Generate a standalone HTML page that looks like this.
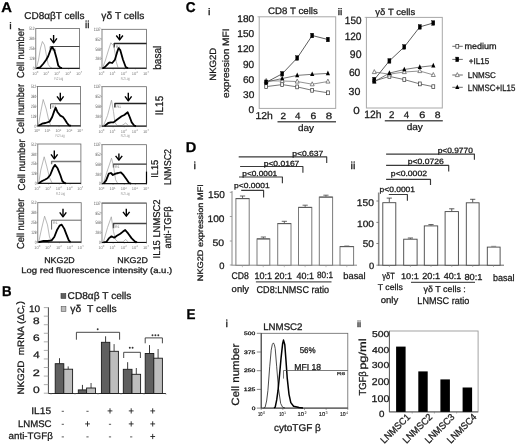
<!DOCTYPE html>
<html><head><meta charset="utf-8"><style>
html,body{margin:0;padding:0;background:#fff;}
svg{display:block;will-change:transform;}
text{font-family:"Liberation Sans",sans-serif;text-rendering:geometricPrecision;white-space:pre;}
</style></head><body>
<svg width="520" height="446" viewBox="0 0 520 446">
<rect width="520" height="446" fill="#fff"/>
<text transform="translate(1.33,11.70) scale(1.051,1)" font-size="14.06" font-weight="bold" fill="#000" stroke="#000" stroke-width="0.28" >A</text>
<text transform="translate(1.94,296.40) scale(0.935,1)" font-size="14.20" font-weight="bold" fill="#000" stroke="#000" stroke-width="0.28" >B</text>
<text transform="translate(185.86,11.50) scale(0.957,1)" font-size="14.20" font-weight="bold" fill="#000" stroke="#000" stroke-width="0.28" >C</text>
<text transform="translate(185.75,152.20) scale(1.020,1)" font-size="14.35" font-weight="bold" fill="#000" stroke="#000" stroke-width="0.28" >D</text>
<text transform="translate(186.43,318.60) scale(0.938,1)" font-size="14.35" font-weight="bold" fill="#000" stroke="#000" stroke-width="0.28" >E</text>
<text transform="translate(24.30,19.40) scale(1.000,1)" font-size="10.00" fill="#1a1a1a" stroke="#1a1a1a" stroke-width="0.28" >CD8αβT cells</text>
<text transform="translate(101.35,19.30) scale(1.020,1)" font-size="10.00" fill="#1a1a1a" stroke="#1a1a1a" stroke-width="0.28" >γδ T cells</text>
<text transform="translate(9.18,28.60) scale(1.182,1)" font-size="9.40" fill="#1a1a1a" stroke="#1a1a1a" stroke-width="0.28" >i</text>
<text transform="translate(85.05,27.50) scale(1.000,1)" font-size="10.00" fill="#1a1a1a" stroke="#1a1a1a" stroke-width="0.28" >ii</text>
<text transform="translate(23.70,78.07) rotate(-90) scale(0.918,1)" font-size="10.14" fill="#1a1a1a" stroke="#1a1a1a" stroke-width="0.28">Cell number</text>
<text transform="translate(23.70,133.66) rotate(-90) scale(0.911,1)" font-size="10.14" fill="#1a1a1a" stroke="#1a1a1a" stroke-width="0.28">Cell number</text>
<text transform="translate(24.60,190.38) rotate(-90) scale(0.937,1)" font-size="10.14" fill="#1a1a1a" stroke="#1a1a1a" stroke-width="0.28">Cell number</text>
<text transform="translate(24.00,249.07) rotate(-90) scale(0.922,1)" font-size="10.14" fill="#1a1a1a" stroke="#1a1a1a" stroke-width="0.28">Cell number</text>
<text transform="translate(160.90,69.86) rotate(-90) scale(0.920,1)" font-size="11.01" fill="#1a1a1a" stroke="#1a1a1a" stroke-width="0.28">basal</text>
<text transform="translate(163.20,115.20) rotate(-90) scale(0.905,1)" font-size="11.01" fill="#1a1a1a" stroke="#1a1a1a" stroke-width="0.28">IL15</text>
<text transform="translate(158.10,177.83) rotate(-90) scale(0.939,1)" font-size="9.86" fill="#1a1a1a" stroke="#1a1a1a" stroke-width="0.28">IL15</text>
<text transform="translate(171.20,185.11) rotate(-90) scale(0.905,1)" font-size="9.86" fill="#1a1a1a" stroke="#1a1a1a" stroke-width="0.28">LNMSC2</text>
<text transform="translate(160.40,258.44) rotate(-90) scale(0.952,1)" font-size="9.86" fill="#1a1a1a" stroke="#1a1a1a" stroke-width="0.28">IL15 LNMSC2</text>
<text transform="translate(171.40,248.47) rotate(-90) scale(0.944,1)" font-size="9.86" fill="#1a1a1a" stroke="#1a1a1a" stroke-width="0.28">anti-TGFβ</text>
<text transform="translate(44.19,262.60) scale(1.076,1)" font-size="8.26" fill="#1a1a1a" stroke="#1a1a1a" stroke-width="0.28" >NKG2D</text>
<text transform="translate(117.29,262.60) scale(1.076,1)" font-size="8.26" fill="#1a1a1a" stroke="#1a1a1a" stroke-width="0.28" >NKG2D</text>
<text transform="translate(21.24,273.00) scale(1.171,1)" font-size="8.12" fill="#1a1a1a" stroke="#1a1a1a" stroke-width="0.28" >Log red fluorescence intensity (a.u.)</text>
<rect x="35.8" y="28.6" width="43.8" height="39.699999999999996" fill="none" stroke="#666" stroke-width="0.8"/>
<text x="34.5" y="70.0" font-size="4.8" fill="#555" text-anchor="end" textLength="1.8" lengthAdjust="spacingAndGlyphs">0</text>
<line x1="34.599999999999994" y1="68.3" x2="35.8" y2="68.3" stroke="#888" stroke-width="0.6"/>
<text x="34.5" y="60.1" font-size="4.8" fill="#555" text-anchor="end" textLength="5.2" lengthAdjust="spacingAndGlyphs">128</text>
<line x1="34.599999999999994" y1="58.375" x2="35.8" y2="58.375" stroke="#888" stroke-width="0.6"/>
<text x="34.5" y="50.2" font-size="4.8" fill="#555" text-anchor="end" textLength="5.2" lengthAdjust="spacingAndGlyphs">256</text>
<line x1="34.599999999999994" y1="48.45" x2="35.8" y2="48.45" stroke="#888" stroke-width="0.6"/>
<text x="34.5" y="40.2" font-size="4.8" fill="#555" text-anchor="end" textLength="5.2" lengthAdjust="spacingAndGlyphs">384</text>
<line x1="34.599999999999994" y1="38.525" x2="35.8" y2="38.525" stroke="#888" stroke-width="0.6"/>
<text x="34.5" y="30.3" font-size="4.8" fill="#555" text-anchor="end" textLength="5.2" lengthAdjust="spacingAndGlyphs">512</text>
<line x1="34.599999999999994" y1="28.6" x2="35.8" y2="28.6" stroke="#888" stroke-width="0.6"/>
<text x="35.2" y="74.7" font-size="4.0" fill="#777" text-anchor="middle">10<tspan font-size="2.8" dy="-1.5">0</tspan></text>
<line x1="35.8" y1="68.3" x2="35.8" y2="69.5" stroke="#888" stroke-width="0.6"/>
<text x="46.1" y="74.7" font-size="4.0" fill="#777" text-anchor="middle">10<tspan font-size="2.8" dy="-1.5">1</tspan></text>
<line x1="46.75" y1="68.3" x2="46.75" y2="69.5" stroke="#888" stroke-width="0.6"/>
<text x="57.1" y="74.7" font-size="4.0" fill="#777" text-anchor="middle">10<tspan font-size="2.8" dy="-1.5">2</tspan></text>
<line x1="57.699999999999996" y1="68.3" x2="57.699999999999996" y2="69.5" stroke="#888" stroke-width="0.6"/>
<text x="68.0" y="74.7" font-size="4.0" fill="#777" text-anchor="middle">10<tspan font-size="2.8" dy="-1.5">3</tspan></text>
<line x1="68.64999999999999" y1="68.3" x2="68.64999999999999" y2="69.5" stroke="#888" stroke-width="0.6"/>
<text x="79.0" y="74.7" font-size="4.0" fill="#777" text-anchor="middle">10<tspan font-size="2.8" dy="-1.5">4</tspan></text>
<line x1="79.6" y1="68.3" x2="79.6" y2="69.5" stroke="#888" stroke-width="0.6"/>
<text x="58.7" y="79.6" font-size="4.2" fill="#888" text-anchor="middle" textLength="9" lengthAdjust="spacingAndGlyphs">FL2 Log</text>
<polyline points="50.2,48.9 50.2,46.5 79.6,46.5" fill="none" stroke="#333" stroke-width="0.9" stroke-linejoin="round"/>
<text x="51.7" y="50.5" font-size="3.6" fill="#777">R1</text>
<polyline points="36.5,67.6 38.5,60.0 40.5,48.0 42.4,41.5 44.5,45.0 46.5,56.0 48.2,64.4 50.5,67.6 52.0,68.0" fill="none" stroke="#9a9a9a" stroke-width="0.7" stroke-linejoin="round"/>
<polyline points="36.8,68.1 40.1,67.3 43.5,63.5 46.2,59.7 48.2,56.3 50.9,48.9 52.2,46.9 54.3,50.2 56.5,58.0 58.3,65.7 60.3,67.7 62.0,68.1" fill="none" stroke="#000" stroke-width="1.8" stroke-linejoin="round"/>
<line x1="35.8" y1="68.3" x2="79.6" y2="68.3" stroke="#000" stroke-width="1.0"/>
<line x1="53.6" y1="35.0" x2="53.6" y2="42.5" stroke="#000" stroke-width="1.4"/>
<polyline points="50.3,38.4 53.6,42.8 56.9,38.4" fill="none" stroke="#000" stroke-width="1.4" stroke-linejoin="round"/>
<rect x="102.0" y="29.3" width="44.5" height="38.900000000000006" fill="none" stroke="#666" stroke-width="0.8"/>
<text x="100.7" y="69.9" font-size="4.8" fill="#555" text-anchor="end" textLength="1.8" lengthAdjust="spacingAndGlyphs">0</text>
<line x1="100.8" y1="68.2" x2="102.0" y2="68.2" stroke="#888" stroke-width="0.6"/>
<text x="100.7" y="60.2" font-size="4.8" fill="#555" text-anchor="end" textLength="5.2" lengthAdjust="spacingAndGlyphs">284</text>
<line x1="100.8" y1="58.475" x2="102.0" y2="58.475" stroke="#888" stroke-width="0.6"/>
<text x="100.7" y="50.5" font-size="4.8" fill="#555" text-anchor="end" textLength="5.2" lengthAdjust="spacingAndGlyphs">568</text>
<line x1="100.8" y1="48.75" x2="102.0" y2="48.75" stroke="#888" stroke-width="0.6"/>
<text x="100.7" y="40.7" font-size="4.8" fill="#555" text-anchor="end" textLength="5.2" lengthAdjust="spacingAndGlyphs">852</text>
<line x1="100.8" y1="39.025" x2="102.0" y2="39.025" stroke="#888" stroke-width="0.6"/>
<text x="100.7" y="31.0" font-size="4.8" fill="#555" text-anchor="end" textLength="7.0" lengthAdjust="spacingAndGlyphs">1137</text>
<line x1="100.8" y1="29.299999999999997" x2="102.0" y2="29.299999999999997" stroke="#888" stroke-width="0.6"/>
<text x="101.4" y="74.6" font-size="4.0" fill="#777" text-anchor="middle">10<tspan font-size="2.8" dy="-1.5">0</tspan></text>
<line x1="102.0" y1="68.2" x2="102.0" y2="69.4" stroke="#888" stroke-width="0.6"/>
<text x="112.5" y="74.6" font-size="4.0" fill="#777" text-anchor="middle">10<tspan font-size="2.8" dy="-1.5">1</tspan></text>
<line x1="113.125" y1="68.2" x2="113.125" y2="69.4" stroke="#888" stroke-width="0.6"/>
<text x="123.7" y="74.6" font-size="4.0" fill="#777" text-anchor="middle">10<tspan font-size="2.8" dy="-1.5">2</tspan></text>
<line x1="124.25" y1="68.2" x2="124.25" y2="69.4" stroke="#888" stroke-width="0.6"/>
<text x="134.8" y="74.6" font-size="4.0" fill="#777" text-anchor="middle">10<tspan font-size="2.8" dy="-1.5">3</tspan></text>
<line x1="135.375" y1="68.2" x2="135.375" y2="69.4" stroke="#888" stroke-width="0.6"/>
<text x="145.9" y="74.6" font-size="4.0" fill="#777" text-anchor="middle">10<tspan font-size="2.8" dy="-1.5">4</tspan></text>
<line x1="146.5" y1="68.2" x2="146.5" y2="69.4" stroke="#888" stroke-width="0.6"/>
<text x="125.2" y="79.5" font-size="4.2" fill="#888" text-anchor="middle" textLength="9" lengthAdjust="spacingAndGlyphs">FL2 Log</text>
<polyline points="114.2,47.5 114.2,43.5 146.5,43.5" fill="none" stroke="#222" stroke-width="1.4" stroke-linejoin="round"/>
<text x="115.7" y="47.5" font-size="3.6" fill="#777">R1</text>
<polyline points="102.8,67.7 105.5,60.0 108.5,50.0 110.9,42.8 112.5,44.8 113.8,46.0 115.2,54.0 116.2,61.7 118.0,67.5" fill="none" stroke="#9a9a9a" stroke-width="0.7" stroke-linejoin="round"/>
<polyline points="102.8,68.3 105.0,67.0 107.5,64.4 109.5,62.3 112.2,63.0 114.9,59.7 116.9,52.9 118.5,48.2 120.3,50.2 123.0,59.7 125.7,67.0 128.0,68.3" fill="none" stroke="#000" stroke-width="1.8" stroke-linejoin="round"/>
<line x1="102.0" y1="68.2" x2="146.5" y2="68.2" stroke="#000" stroke-width="1.0"/>
<line x1="119.6" y1="34.0" x2="119.6" y2="39.6" stroke="#000" stroke-width="1.4"/>
<polyline points="116.3,35.5 119.6,39.9 122.9,35.5" fill="none" stroke="#000" stroke-width="1.4" stroke-linejoin="round"/>
<rect x="37.5" y="86.5" width="43.0" height="39.400000000000006" fill="none" stroke="#666" stroke-width="0.8"/>
<text x="36.2" y="127.6" font-size="4.8" fill="#555" text-anchor="end" textLength="1.8" lengthAdjust="spacingAndGlyphs">0</text>
<line x1="36.3" y1="125.9" x2="37.5" y2="125.9" stroke="#888" stroke-width="0.6"/>
<text x="36.2" y="117.8" font-size="4.8" fill="#555" text-anchor="end" textLength="5.2" lengthAdjust="spacingAndGlyphs">128</text>
<line x1="36.3" y1="116.05000000000001" x2="37.5" y2="116.05000000000001" stroke="#888" stroke-width="0.6"/>
<text x="36.2" y="107.9" font-size="4.8" fill="#555" text-anchor="end" textLength="5.2" lengthAdjust="spacingAndGlyphs">256</text>
<line x1="36.3" y1="106.2" x2="37.5" y2="106.2" stroke="#888" stroke-width="0.6"/>
<text x="36.2" y="98.0" font-size="4.8" fill="#555" text-anchor="end" textLength="5.2" lengthAdjust="spacingAndGlyphs">384</text>
<line x1="36.3" y1="96.35" x2="37.5" y2="96.35" stroke="#888" stroke-width="0.6"/>
<text x="36.2" y="88.2" font-size="4.8" fill="#555" text-anchor="end" textLength="5.2" lengthAdjust="spacingAndGlyphs">512</text>
<line x1="36.3" y1="86.5" x2="37.5" y2="86.5" stroke="#888" stroke-width="0.6"/>
<text x="36.9" y="132.3" font-size="4.0" fill="#777" text-anchor="middle">10<tspan font-size="2.8" dy="-1.5">0</tspan></text>
<line x1="37.5" y1="125.9" x2="37.5" y2="127.10000000000001" stroke="#888" stroke-width="0.6"/>
<text x="47.6" y="132.3" font-size="4.0" fill="#777" text-anchor="middle">10<tspan font-size="2.8" dy="-1.5">1</tspan></text>
<line x1="48.25" y1="125.9" x2="48.25" y2="127.10000000000001" stroke="#888" stroke-width="0.6"/>
<text x="58.4" y="132.3" font-size="4.0" fill="#777" text-anchor="middle">10<tspan font-size="2.8" dy="-1.5">2</tspan></text>
<line x1="59.0" y1="125.9" x2="59.0" y2="127.10000000000001" stroke="#888" stroke-width="0.6"/>
<text x="69.2" y="132.3" font-size="4.0" fill="#777" text-anchor="middle">10<tspan font-size="2.8" dy="-1.5">3</tspan></text>
<line x1="69.75" y1="125.9" x2="69.75" y2="127.10000000000001" stroke="#888" stroke-width="0.6"/>
<text x="79.9" y="132.3" font-size="4.0" fill="#777" text-anchor="middle">10<tspan font-size="2.8" dy="-1.5">4</tspan></text>
<line x1="80.5" y1="125.9" x2="80.5" y2="127.10000000000001" stroke="#888" stroke-width="0.6"/>
<text x="60.0" y="137.2" font-size="4.2" fill="#888" text-anchor="middle" textLength="9" lengthAdjust="spacingAndGlyphs">FL2 Log</text>
<polyline points="50.6,108.9 50.6,103.8 80.5,103.8" fill="none" stroke="#444" stroke-width="1.0" stroke-linejoin="round"/>
<text x="52.1" y="107.8" font-size="3.6" fill="#777">R1</text>
<polyline points="38.4,125.0 40.8,111.6 43.2,99.5 46.2,108.9 48.9,121.0 50.5,125.0" fill="none" stroke="#9a9a9a" stroke-width="0.7" stroke-linejoin="round"/>
<polyline points="38.4,125.7 42.1,123.7 45.5,123.0 49.5,121.7 52.2,117.0 54.3,110.9 55.6,107.6 57.6,112.3 60.3,115.6 63.0,117.0 65.0,119.7 67.0,123.0 69.0,125.3 71.0,125.7" fill="none" stroke="#000" stroke-width="1.8" stroke-linejoin="round"/>
<line x1="37.5" y1="125.9" x2="80.5" y2="125.9" stroke="#000" stroke-width="1.0"/>
<line x1="60.3" y1="92.8" x2="60.3" y2="100.5" stroke="#000" stroke-width="1.4"/>
<polyline points="57.0,96.4 60.3,100.8 63.6,96.4" fill="none" stroke="#000" stroke-width="1.4" stroke-linejoin="round"/>
<rect x="102.0" y="86.7" width="44.5" height="39.39999999999999" fill="none" stroke="#666" stroke-width="0.8"/>
<text x="100.7" y="127.8" font-size="4.8" fill="#555" text-anchor="end" textLength="1.8" lengthAdjust="spacingAndGlyphs">0</text>
<line x1="100.8" y1="126.1" x2="102.0" y2="126.1" stroke="#888" stroke-width="0.6"/>
<text x="100.7" y="118.0" font-size="4.8" fill="#555" text-anchor="end" textLength="5.2" lengthAdjust="spacingAndGlyphs">284</text>
<line x1="100.8" y1="116.25" x2="102.0" y2="116.25" stroke="#888" stroke-width="0.6"/>
<text x="100.7" y="108.1" font-size="4.8" fill="#555" text-anchor="end" textLength="5.2" lengthAdjust="spacingAndGlyphs">568</text>
<line x1="100.8" y1="106.4" x2="102.0" y2="106.4" stroke="#888" stroke-width="0.6"/>
<text x="100.7" y="98.2" font-size="4.8" fill="#555" text-anchor="end" textLength="5.2" lengthAdjust="spacingAndGlyphs">852</text>
<line x1="100.8" y1="96.55" x2="102.0" y2="96.55" stroke="#888" stroke-width="0.6"/>
<text x="100.7" y="88.4" font-size="4.8" fill="#555" text-anchor="end" textLength="7.0" lengthAdjust="spacingAndGlyphs">1137</text>
<line x1="100.8" y1="86.7" x2="102.0" y2="86.7" stroke="#888" stroke-width="0.6"/>
<text x="101.4" y="132.5" font-size="4.0" fill="#777" text-anchor="middle">10<tspan font-size="2.8" dy="-1.5">0</tspan></text>
<line x1="102.0" y1="126.1" x2="102.0" y2="127.3" stroke="#888" stroke-width="0.6"/>
<text x="112.5" y="132.5" font-size="4.0" fill="#777" text-anchor="middle">10<tspan font-size="2.8" dy="-1.5">1</tspan></text>
<line x1="113.125" y1="126.1" x2="113.125" y2="127.3" stroke="#888" stroke-width="0.6"/>
<text x="123.7" y="132.5" font-size="4.0" fill="#777" text-anchor="middle">10<tspan font-size="2.8" dy="-1.5">2</tspan></text>
<line x1="124.25" y1="126.1" x2="124.25" y2="127.3" stroke="#888" stroke-width="0.6"/>
<text x="134.8" y="132.5" font-size="4.0" fill="#777" text-anchor="middle">10<tspan font-size="2.8" dy="-1.5">3</tspan></text>
<line x1="135.375" y1="126.1" x2="135.375" y2="127.3" stroke="#888" stroke-width="0.6"/>
<text x="145.9" y="132.5" font-size="4.0" fill="#777" text-anchor="middle">10<tspan font-size="2.8" dy="-1.5">4</tspan></text>
<line x1="146.5" y1="126.1" x2="146.5" y2="127.3" stroke="#888" stroke-width="0.6"/>
<text x="125.2" y="137.4" font-size="4.2" fill="#888" text-anchor="middle" textLength="9" lengthAdjust="spacingAndGlyphs">FL2 Log</text>
<polyline points="114.9,107.6 114.9,103.5 146.5,103.5" fill="none" stroke="#222" stroke-width="1.4" stroke-linejoin="round"/>
<text x="116.4" y="107.5" font-size="3.6" fill="#777">R1</text>
<polyline points="103.5,125.7 107.5,115.6 111.5,100.2 113.5,111.6 114.9,122.4 117.0,125.5 122.0,125.5 125.7,123.0 128.5,125.7" fill="none" stroke="#9a9a9a" stroke-width="0.7" stroke-linejoin="round"/>
<polyline points="104.5,126.1 108.2,123.0 110.9,122.4 113.5,122.4 116.2,120.3 118.9,118.3 121.6,116.3 124.3,115.0 127.7,112.3 129.7,117.0 131.7,122.4 134.4,125.7 136.0,126.1" fill="none" stroke="#000" stroke-width="1.8" stroke-linejoin="round"/>
<line x1="102.0" y1="126.1" x2="146.5" y2="126.1" stroke="#000" stroke-width="1.0"/>
<line x1="128.3" y1="92.8" x2="128.3" y2="100.5" stroke="#000" stroke-width="1.4"/>
<polyline points="125.0,96.4 128.3,100.8 131.6,96.4" fill="none" stroke="#000" stroke-width="1.4" stroke-linejoin="round"/>
<rect x="37.8" y="144.0" width="43.10000000000001" height="39.30000000000001" fill="none" stroke="#666" stroke-width="0.8"/>
<text x="36.5" y="185.0" font-size="4.8" fill="#555" text-anchor="end" textLength="1.8" lengthAdjust="spacingAndGlyphs">0</text>
<line x1="36.599999999999994" y1="183.3" x2="37.8" y2="183.3" stroke="#888" stroke-width="0.6"/>
<text x="36.5" y="175.2" font-size="4.8" fill="#555" text-anchor="end" textLength="5.2" lengthAdjust="spacingAndGlyphs">128</text>
<line x1="36.599999999999994" y1="173.47500000000002" x2="37.8" y2="173.47500000000002" stroke="#888" stroke-width="0.6"/>
<text x="36.5" y="165.3" font-size="4.8" fill="#555" text-anchor="end" textLength="5.2" lengthAdjust="spacingAndGlyphs">256</text>
<line x1="36.599999999999994" y1="163.65" x2="37.8" y2="163.65" stroke="#888" stroke-width="0.6"/>
<text x="36.5" y="155.5" font-size="4.8" fill="#555" text-anchor="end" textLength="5.2" lengthAdjust="spacingAndGlyphs">384</text>
<line x1="36.599999999999994" y1="153.825" x2="37.8" y2="153.825" stroke="#888" stroke-width="0.6"/>
<text x="36.5" y="145.7" font-size="4.8" fill="#555" text-anchor="end" textLength="5.2" lengthAdjust="spacingAndGlyphs">512</text>
<line x1="36.599999999999994" y1="144.0" x2="37.8" y2="144.0" stroke="#888" stroke-width="0.6"/>
<text x="37.2" y="189.7" font-size="4.0" fill="#777" text-anchor="middle">10<tspan font-size="2.8" dy="-1.5">0</tspan></text>
<line x1="37.8" y1="183.3" x2="37.8" y2="184.5" stroke="#888" stroke-width="0.6"/>
<text x="48.0" y="189.7" font-size="4.0" fill="#777" text-anchor="middle">10<tspan font-size="2.8" dy="-1.5">1</tspan></text>
<line x1="48.575" y1="183.3" x2="48.575" y2="184.5" stroke="#888" stroke-width="0.6"/>
<text x="58.8" y="189.7" font-size="4.0" fill="#777" text-anchor="middle">10<tspan font-size="2.8" dy="-1.5">2</tspan></text>
<line x1="59.35" y1="183.3" x2="59.35" y2="184.5" stroke="#888" stroke-width="0.6"/>
<text x="69.5" y="189.7" font-size="4.0" fill="#777" text-anchor="middle">10<tspan font-size="2.8" dy="-1.5">3</tspan></text>
<line x1="70.125" y1="183.3" x2="70.125" y2="184.5" stroke="#888" stroke-width="0.6"/>
<text x="80.3" y="189.7" font-size="4.0" fill="#777" text-anchor="middle">10<tspan font-size="2.8" dy="-1.5">4</tspan></text>
<line x1="80.9" y1="183.3" x2="80.9" y2="184.5" stroke="#888" stroke-width="0.6"/>
<text x="60.4" y="194.6" font-size="4.2" fill="#888" text-anchor="middle" textLength="9" lengthAdjust="spacingAndGlyphs">FL2 Log</text>
<polyline points="51.6,164.2 51.6,161.5 80.9,161.5" fill="none" stroke="#777" stroke-width="1.4" stroke-linejoin="round"/>
<polyline points="38.8,182.8 40.8,170.0 44.2,156.8 46.9,166.9 49.5,177.7 52.0,182.8" fill="none" stroke="#9a9a9a" stroke-width="0.7" stroke-linejoin="round"/>
<polyline points="38.8,183.3 42.1,181.0 44.8,179.7 47.5,178.3 50.2,175.0 52.9,168.3 54.9,164.9 57.6,168.3 60.3,175.0 62.3,181.0 64.3,183.0 66.0,183.3" fill="none" stroke="#000" stroke-width="1.8" stroke-linejoin="round"/>
<line x1="37.8" y1="183.3" x2="80.9" y2="183.3" stroke="#000" stroke-width="1.0"/>
<line x1="54.3" y1="150.5" x2="54.3" y2="158.5" stroke="#000" stroke-width="1.4"/>
<polyline points="51.0,154.4 54.3,158.8 57.6,154.4" fill="none" stroke="#000" stroke-width="1.4" stroke-linejoin="round"/>
<rect x="102.0" y="144.7" width="44.5" height="39.0" fill="none" stroke="#666" stroke-width="0.8"/>
<text x="100.7" y="185.4" font-size="4.8" fill="#555" text-anchor="end" textLength="1.8" lengthAdjust="spacingAndGlyphs">0</text>
<line x1="100.8" y1="183.7" x2="102.0" y2="183.7" stroke="#888" stroke-width="0.6"/>
<text x="100.7" y="175.6" font-size="4.8" fill="#555" text-anchor="end" textLength="5.2" lengthAdjust="spacingAndGlyphs">284</text>
<line x1="100.8" y1="173.95" x2="102.0" y2="173.95" stroke="#888" stroke-width="0.6"/>
<text x="100.7" y="165.9" font-size="4.8" fill="#555" text-anchor="end" textLength="5.2" lengthAdjust="spacingAndGlyphs">568</text>
<line x1="100.8" y1="164.2" x2="102.0" y2="164.2" stroke="#888" stroke-width="0.6"/>
<text x="100.7" y="156.1" font-size="4.8" fill="#555" text-anchor="end" textLength="5.2" lengthAdjust="spacingAndGlyphs">852</text>
<line x1="100.8" y1="154.45" x2="102.0" y2="154.45" stroke="#888" stroke-width="0.6"/>
<text x="100.7" y="146.4" font-size="4.8" fill="#555" text-anchor="end" textLength="7.0" lengthAdjust="spacingAndGlyphs">1137</text>
<line x1="100.8" y1="144.7" x2="102.0" y2="144.7" stroke="#888" stroke-width="0.6"/>
<text x="101.4" y="190.1" font-size="4.0" fill="#777" text-anchor="middle">10<tspan font-size="2.8" dy="-1.5">0</tspan></text>
<line x1="102.0" y1="183.7" x2="102.0" y2="184.89999999999998" stroke="#888" stroke-width="0.6"/>
<text x="112.5" y="190.1" font-size="4.0" fill="#777" text-anchor="middle">10<tspan font-size="2.8" dy="-1.5">1</tspan></text>
<line x1="113.125" y1="183.7" x2="113.125" y2="184.89999999999998" stroke="#888" stroke-width="0.6"/>
<text x="123.7" y="190.1" font-size="4.0" fill="#777" text-anchor="middle">10<tspan font-size="2.8" dy="-1.5">2</tspan></text>
<line x1="124.25" y1="183.7" x2="124.25" y2="184.89999999999998" stroke="#888" stroke-width="0.6"/>
<text x="134.8" y="190.1" font-size="4.0" fill="#777" text-anchor="middle">10<tspan font-size="2.8" dy="-1.5">3</tspan></text>
<line x1="135.375" y1="183.7" x2="135.375" y2="184.89999999999998" stroke="#888" stroke-width="0.6"/>
<text x="145.9" y="190.1" font-size="4.0" fill="#777" text-anchor="middle">10<tspan font-size="2.8" dy="-1.5">4</tspan></text>
<line x1="146.5" y1="183.7" x2="146.5" y2="184.89999999999998" stroke="#888" stroke-width="0.6"/>
<text x="125.2" y="195.0" font-size="4.2" fill="#888" text-anchor="middle" textLength="9" lengthAdjust="spacingAndGlyphs">FL2 Log</text>
<polyline points="113.5,167.6 113.5,164.2 146.5,164.2" fill="none" stroke="#333" stroke-width="1.3" stroke-linejoin="round"/>
<text x="115.0" y="168.2" font-size="3.6" fill="#777">R1</text>
<polyline points="103.5,183.2 106.8,172.3 111.5,158.2 113.5,166.2 115.6,179.7 117.5,183.2" fill="none" stroke="#9a9a9a" stroke-width="0.7" stroke-linejoin="round"/>
<polyline points="103.5,183.7 106.1,180.4 108.8,173.6 110.9,173.0 112.9,175.0 115.6,173.6 118.3,173.0 120.9,172.3 123.6,175.2 126.3,179.0 129.0,183.0 131.0,183.7" fill="none" stroke="#000" stroke-width="1.8" stroke-linejoin="round"/>
<line x1="102.0" y1="183.7" x2="146.5" y2="183.7" stroke="#000" stroke-width="1.0"/>
<line x1="118.9" y1="153.5" x2="118.9" y2="159.89999999999998" stroke="#000" stroke-width="1.4"/>
<polyline points="115.6,155.8 118.9,160.2 122.2,155.8" fill="none" stroke="#000" stroke-width="1.4" stroke-linejoin="round"/>
<line x1="146.5" y1="171.6" x2="146.5" y2="183.7" stroke="#000" stroke-width="1.2"/>
<rect x="37.8" y="202.7" width="43.400000000000006" height="39.400000000000006" fill="none" stroke="#666" stroke-width="0.8"/>
<text x="36.5" y="243.8" font-size="4.8" fill="#555" text-anchor="end" textLength="1.8" lengthAdjust="spacingAndGlyphs">0</text>
<line x1="36.599999999999994" y1="242.1" x2="37.8" y2="242.1" stroke="#888" stroke-width="0.6"/>
<text x="36.5" y="233.9" font-size="4.8" fill="#555" text-anchor="end" textLength="5.2" lengthAdjust="spacingAndGlyphs">128</text>
<line x1="36.599999999999994" y1="232.25" x2="37.8" y2="232.25" stroke="#888" stroke-width="0.6"/>
<text x="36.5" y="224.1" font-size="4.8" fill="#555" text-anchor="end" textLength="5.2" lengthAdjust="spacingAndGlyphs">256</text>
<line x1="36.599999999999994" y1="222.39999999999998" x2="37.8" y2="222.39999999999998" stroke="#888" stroke-width="0.6"/>
<text x="36.5" y="214.2" font-size="4.8" fill="#555" text-anchor="end" textLength="5.2" lengthAdjust="spacingAndGlyphs">384</text>
<line x1="36.599999999999994" y1="212.54999999999998" x2="37.8" y2="212.54999999999998" stroke="#888" stroke-width="0.6"/>
<text x="36.5" y="204.4" font-size="4.8" fill="#555" text-anchor="end" textLength="5.2" lengthAdjust="spacingAndGlyphs">512</text>
<line x1="36.599999999999994" y1="202.7" x2="37.8" y2="202.7" stroke="#888" stroke-width="0.6"/>
<text x="37.2" y="248.5" font-size="4.0" fill="#777" text-anchor="middle">10<tspan font-size="2.8" dy="-1.5">0</tspan></text>
<line x1="37.8" y1="242.1" x2="37.8" y2="243.29999999999998" stroke="#888" stroke-width="0.6"/>
<text x="48.0" y="248.5" font-size="4.0" fill="#777" text-anchor="middle">10<tspan font-size="2.8" dy="-1.5">1</tspan></text>
<line x1="48.65" y1="242.1" x2="48.65" y2="243.29999999999998" stroke="#888" stroke-width="0.6"/>
<text x="58.9" y="248.5" font-size="4.0" fill="#777" text-anchor="middle">10<tspan font-size="2.8" dy="-1.5">2</tspan></text>
<line x1="59.5" y1="242.1" x2="59.5" y2="243.29999999999998" stroke="#888" stroke-width="0.6"/>
<text x="69.8" y="248.5" font-size="4.0" fill="#777" text-anchor="middle">10<tspan font-size="2.8" dy="-1.5">3</tspan></text>
<line x1="70.35" y1="242.1" x2="70.35" y2="243.29999999999998" stroke="#888" stroke-width="0.6"/>
<text x="80.6" y="248.5" font-size="4.0" fill="#777" text-anchor="middle">10<tspan font-size="2.8" dy="-1.5">4</tspan></text>
<line x1="81.2" y1="242.1" x2="81.2" y2="243.29999999999998" stroke="#888" stroke-width="0.6"/>
<polyline points="51.6,229.6 51.6,220.2 81.2,220.2" fill="none" stroke="#666" stroke-width="1.0" stroke-linejoin="round"/>
<text x="53.1" y="224.2" font-size="3.6" fill="#777">R1</text>
<polyline points="38.8,241.6 41.5,229.0 44.6,216.2 47.5,224.9 49.5,237.0 51.5,241.6" fill="none" stroke="#9a9a9a" stroke-width="0.7" stroke-linejoin="round"/>
<polyline points="38.8,242.1 43.5,240.8 47.5,241.0 51.6,240.4 54.3,237.0 56.9,230.3 59.6,225.6 61.7,224.6 64.3,228.9 66.4,234.3 68.8,240.4 70.5,242.1" fill="none" stroke="#000" stroke-width="1.8" stroke-linejoin="round"/>
<line x1="37.8" y1="242.1" x2="81.2" y2="242.1" stroke="#000" stroke-width="1.0"/>
<line x1="63.0" y1="208.8" x2="63.0" y2="216.5" stroke="#000" stroke-width="1.4"/>
<polyline points="59.7,212.4 63.0,216.8 66.3,212.4" fill="none" stroke="#000" stroke-width="1.4" stroke-linejoin="round"/>
<rect x="102.0" y="203.1" width="44.5" height="39.30000000000001" fill="none" stroke="#666" stroke-width="0.8"/>
<text x="100.7" y="244.1" font-size="4.8" fill="#555" text-anchor="end" textLength="1.8" lengthAdjust="spacingAndGlyphs">0</text>
<line x1="100.8" y1="242.4" x2="102.0" y2="242.4" stroke="#888" stroke-width="0.6"/>
<text x="100.7" y="234.3" font-size="4.8" fill="#555" text-anchor="end" textLength="5.2" lengthAdjust="spacingAndGlyphs">284</text>
<line x1="100.8" y1="232.575" x2="102.0" y2="232.575" stroke="#888" stroke-width="0.6"/>
<text x="100.7" y="224.4" font-size="4.8" fill="#555" text-anchor="end" textLength="5.2" lengthAdjust="spacingAndGlyphs">568</text>
<line x1="100.8" y1="222.75" x2="102.0" y2="222.75" stroke="#888" stroke-width="0.6"/>
<text x="100.7" y="214.6" font-size="4.8" fill="#555" text-anchor="end" textLength="5.2" lengthAdjust="spacingAndGlyphs">852</text>
<line x1="100.8" y1="212.925" x2="102.0" y2="212.925" stroke="#888" stroke-width="0.6"/>
<text x="100.7" y="204.8" font-size="4.8" fill="#555" text-anchor="end" textLength="7.0" lengthAdjust="spacingAndGlyphs">1137</text>
<line x1="100.8" y1="203.1" x2="102.0" y2="203.1" stroke="#888" stroke-width="0.6"/>
<text x="101.4" y="248.8" font-size="4.0" fill="#777" text-anchor="middle">10<tspan font-size="2.8" dy="-1.5">0</tspan></text>
<line x1="102.0" y1="242.4" x2="102.0" y2="243.6" stroke="#888" stroke-width="0.6"/>
<text x="112.5" y="248.8" font-size="4.0" fill="#777" text-anchor="middle">10<tspan font-size="2.8" dy="-1.5">1</tspan></text>
<line x1="113.125" y1="242.4" x2="113.125" y2="243.6" stroke="#888" stroke-width="0.6"/>
<text x="123.7" y="248.8" font-size="4.0" fill="#777" text-anchor="middle">10<tspan font-size="2.8" dy="-1.5">2</tspan></text>
<line x1="124.25" y1="242.4" x2="124.25" y2="243.6" stroke="#888" stroke-width="0.6"/>
<text x="134.8" y="248.8" font-size="4.0" fill="#777" text-anchor="middle">10<tspan font-size="2.8" dy="-1.5">3</tspan></text>
<line x1="135.375" y1="242.4" x2="135.375" y2="243.6" stroke="#888" stroke-width="0.6"/>
<text x="145.9" y="248.8" font-size="4.0" fill="#777" text-anchor="middle">10<tspan font-size="2.8" dy="-1.5">4</tspan></text>
<line x1="146.5" y1="242.4" x2="146.5" y2="243.6" stroke="#888" stroke-width="0.6"/>
<polyline points="113.5,228.3 113.5,223.6 146.5,223.6" fill="none" stroke="#444" stroke-width="1.5" stroke-linejoin="round"/>
<text x="115.0" y="227.6" font-size="3.6" fill="#777">R1</text>
<polyline points="103.5,241.9 107.5,227.6 111.3,216.8 113.5,231.6 115.6,239.7 118.0,241.9 123.0,241.9 125.7,239.4 128.0,241.9" fill="none" stroke="#9a9a9a" stroke-width="0.7" stroke-linejoin="round"/>
<polyline points="103.5,242.4 106.5,241.8 108.8,238.4 111.5,236.3 114.2,237.7 116.9,235.7 120.3,233.7 123.0,231.6 125.2,230.0 128.3,233.7 131.7,238.4 135.1,241.7 137.0,242.4" fill="none" stroke="#000" stroke-width="1.8" stroke-linejoin="round"/>
<line x1="102.0" y1="242.4" x2="146.5" y2="242.4" stroke="#000" stroke-width="1.0"/>
<line x1="126.3" y1="208.8" x2="126.3" y2="215.89999999999998" stroke="#000" stroke-width="1.4"/>
<polyline points="123.0,211.8 126.3,216.2 129.6,211.8" fill="none" stroke="#000" stroke-width="1.4" stroke-linejoin="round"/>
<line x1="102.0" y1="203.1" x2="146.5" y2="203.1" stroke="#777" stroke-width="1.2"/>
<rect x="61.0" y="293.6" width="4.8" height="4.8" fill="#5f5f5f" stroke="#333" stroke-width="0.6"/>
<rect x="61.2" y="306.6" width="4.7" height="4.8" fill="#bdbdbd" stroke="#555" stroke-width="0.6"/>
<text transform="translate(67.59,298.50) scale(1.029,1)" font-size="9.86" fill="#1a1a1a" stroke="#1a1a1a" stroke-width="0.28" >CD8αβ T cells</text>
<text transform="translate(70.35,311.90) scale(1.052,1)" font-size="9.86" fill="#1a1a1a" stroke="#1a1a1a" stroke-width="0.28" >γδ  T cells</text>
<line x1="48.4" y1="307.3" x2="48.4" y2="393.5" stroke="#333" stroke-width="0.9"/>
<line x1="43.8" y1="393.2" x2="48.4" y2="393.2" stroke="#999" stroke-width="0.8"/>
<line x1="43.8" y1="384.64" x2="48.4" y2="384.64" stroke="#999" stroke-width="0.8"/>
<line x1="43.8" y1="376.08" x2="48.4" y2="376.08" stroke="#999" stroke-width="0.8"/>
<line x1="43.8" y1="367.52" x2="48.4" y2="367.52" stroke="#999" stroke-width="0.8"/>
<line x1="43.8" y1="358.96" x2="48.4" y2="358.96" stroke="#999" stroke-width="0.8"/>
<line x1="43.8" y1="350.4" x2="48.4" y2="350.4" stroke="#999" stroke-width="0.8"/>
<line x1="43.8" y1="341.84000000000003" x2="48.4" y2="341.84000000000003" stroke="#999" stroke-width="0.8"/>
<line x1="43.8" y1="333.28000000000003" x2="48.4" y2="333.28000000000003" stroke="#999" stroke-width="0.8"/>
<line x1="43.8" y1="324.72" x2="48.4" y2="324.72" stroke="#999" stroke-width="0.8"/>
<line x1="43.8" y1="316.16" x2="48.4" y2="316.16" stroke="#999" stroke-width="0.8"/>
<line x1="43.8" y1="307.6" x2="48.4" y2="307.6" stroke="#999" stroke-width="0.8"/>
<text transform="translate(28.94,311.80) scale(1.072,1)" font-size="9.42" fill="#1a1a1a" stroke="#1a1a1a" stroke-width="0.28" >10</text>
<text transform="translate(33.06,323.50) scale(1.265,1)" font-size="9.42" fill="#1a1a1a" stroke="#1a1a1a" stroke-width="0.28" >8</text>
<text transform="translate(33.00,340.90) scale(1.278,1)" font-size="9.42" fill="#1a1a1a" stroke="#1a1a1a" stroke-width="0.28" >6</text>
<text transform="translate(33.17,357.50) scale(1.219,1)" font-size="9.42" fill="#1a1a1a" stroke="#1a1a1a" stroke-width="0.28" >4</text>
<text transform="translate(32.76,375.80) scale(1.353,1)" font-size="9.42" fill="#1a1a1a" stroke="#1a1a1a" stroke-width="0.28" >2</text>
<text transform="translate(32.92,392.60) scale(1.283,1)" font-size="9.42" fill="#1a1a1a" stroke="#1a1a1a" stroke-width="0.28" >0</text>
<line x1="48.4" y1="393.5" x2="166" y2="393.5" stroke="#333" stroke-width="1.0"/>
<line x1="51" y1="393.5" x2="51" y2="395" stroke="#aaa" stroke-width="0.6"/>
<line x1="75" y1="393.5" x2="75" y2="395" stroke="#aaa" stroke-width="0.6"/>
<line x1="98" y1="393.5" x2="98" y2="395" stroke="#aaa" stroke-width="0.6"/>
<line x1="121" y1="393.5" x2="121" y2="395" stroke="#aaa" stroke-width="0.6"/>
<line x1="144" y1="393.5" x2="144" y2="395" stroke="#aaa" stroke-width="0.6"/>
<line x1="166" y1="393.5" x2="166" y2="395" stroke="#aaa" stroke-width="0.6"/>
<line x1="59.5" y1="358.2" x2="59.5" y2="363.7" stroke="#222" stroke-width="0.9"/>
<line x1="68.19999999999999" y1="366.4" x2="68.19999999999999" y2="369.2" stroke="#333" stroke-width="0.9"/>
<rect x="55.2" y="363.7" width="8.599999999999994" height="29.80000000000001" fill="#5f5f5f" stroke="#1a1a1a" stroke-width="0.9"/>
<rect x="63.8" y="369.2" width="8.799999999999997" height="24.30000000000001" fill="#bdbdbd" stroke="#1a1a1a" stroke-width="0.9"/>
<line x1="82.44999999999999" y1="384.9" x2="82.44999999999999" y2="389.9" stroke="#222" stroke-width="0.9"/>
<line x1="91.05" y1="383.0" x2="91.05" y2="388.0" stroke="#333" stroke-width="0.9"/>
<rect x="78.3" y="389.9" width="8.299999999999997" height="3.6000000000000227" fill="#5f5f5f" stroke="#1a1a1a" stroke-width="0.9"/>
<rect x="86.6" y="388.0" width="8.900000000000006" height="5.5" fill="#bdbdbd" stroke="#1a1a1a" stroke-width="0.9"/>
<line x1="105.6" y1="336.3" x2="105.6" y2="342.3" stroke="#222" stroke-width="0.9"/>
<line x1="114.1" y1="344.1" x2="114.1" y2="351.3" stroke="#333" stroke-width="0.9"/>
<rect x="101.4" y="342.3" width="8.399999999999991" height="51.19999999999999" fill="#5f5f5f" stroke="#1a1a1a" stroke-width="0.9"/>
<rect x="109.8" y="351.3" width="8.600000000000009" height="42.19999999999999" fill="#bdbdbd" stroke="#1a1a1a" stroke-width="0.9"/>
<line x1="127.65" y1="362.2" x2="127.65" y2="369.3" stroke="#222" stroke-width="0.9"/>
<line x1="136.3" y1="368.0" x2="136.3" y2="374.3" stroke="#333" stroke-width="0.9"/>
<rect x="123.3" y="369.3" width="8.700000000000003" height="24.19999999999999" fill="#5f5f5f" stroke="#1a1a1a" stroke-width="0.9"/>
<rect x="132.0" y="374.3" width="8.599999999999994" height="19.19999999999999" fill="#bdbdbd" stroke="#1a1a1a" stroke-width="0.9"/>
<line x1="149.5" y1="345.1" x2="149.5" y2="353.5" stroke="#222" stroke-width="0.9"/>
<line x1="158.10000000000002" y1="349.0" x2="158.10000000000002" y2="358.2" stroke="#333" stroke-width="0.9"/>
<rect x="145.2" y="353.5" width="8.600000000000023" height="40.0" fill="#5f5f5f" stroke="#1a1a1a" stroke-width="0.9"/>
<rect x="153.8" y="358.2" width="8.599999999999994" height="35.30000000000001" fill="#bdbdbd" stroke="#1a1a1a" stroke-width="0.9"/>
<polyline points="76.4,339.7 76.4,332.3 119.6,332.3 119.6,339.7" fill="none" stroke="#333" stroke-width="0.9" stroke-linejoin="round"/>
<polyline points="123.7,358.0 123.7,352.3 140.4,352.3 140.4,358.0" fill="none" stroke="#333" stroke-width="0.9" stroke-linejoin="round"/>
<polyline points="145.2,343.3 145.2,337.9 162.4,337.9 162.4,343.3" fill="none" stroke="#333" stroke-width="0.9" stroke-linejoin="round"/>
<circle cx="97.7" cy="329.2" r="0.95" fill="#333"/>
<circle cx="129.8" cy="347.8" r="0.95" fill="#333"/>
<circle cx="132.6" cy="347.8" r="0.95" fill="#333"/>
<circle cx="152.5" cy="335.2" r="0.95" fill="#333"/>
<circle cx="155.4" cy="335.2" r="0.95" fill="#333"/>
<circle cx="158.3" cy="335.2" r="0.95" fill="#333"/>
<text transform="translate(24.00,394.59) rotate(-90) scale(1.063,1)" font-size="9.28" fill="#1a1a1a" stroke="#1a1a1a" stroke-width="0.28">NKG2D  mRNA (ΔC</text>
<text transform="translate(25.00,307.57) rotate(-90) scale(0.931,1)" font-size="3.77" fill="#1a1a1a" stroke="#1a1a1a" stroke-width="0.28">T</text>
<text transform="translate(22.90,304.55) rotate(-90) scale(1.139,1)" font-size="9.28" fill="#1a1a1a" stroke="#1a1a1a" stroke-width="0.28">)</text>
<text transform="translate(31.28,413.70) scale(1.066,1)" font-size="9.57" fill="#1a1a1a" stroke="#1a1a1a" stroke-width="0.28" >IL15</text>
<text transform="translate(17.93,427.00) scale(1.004,1)" font-size="9.57" fill="#1a1a1a" stroke="#1a1a1a" stroke-width="0.28" >LNMSC</text>
<text transform="translate(8.61,438.90) scale(1.022,1)" font-size="9.57" fill="#1a1a1a" stroke="#1a1a1a" stroke-width="0.28" >anti-TGFβ</text>
<line x1="61.699999999999996" y1="411.29999999999995" x2="63.9" y2="411.29999999999995" stroke="#444" stroke-width="0.9"/>
<line x1="86.4" y1="411.29999999999995" x2="88.6" y2="411.29999999999995" stroke="#444" stroke-width="0.9"/>
<line x1="107.6" y1="410.9" x2="112.4" y2="410.9" stroke="#222" stroke-width="0.9"/>
<line x1="110.0" y1="408.29999999999995" x2="110.0" y2="413.5" stroke="#222" stroke-width="0.9"/>
<line x1="128.79999999999998" y1="410.9" x2="133.6" y2="410.9" stroke="#222" stroke-width="0.9"/>
<line x1="131.2" y1="408.29999999999995" x2="131.2" y2="413.5" stroke="#222" stroke-width="0.9"/>
<line x1="150.29999999999998" y1="410.9" x2="155.1" y2="410.9" stroke="#222" stroke-width="0.9"/>
<line x1="152.7" y1="408.29999999999995" x2="152.7" y2="413.5" stroke="#222" stroke-width="0.9"/>
<line x1="61.699999999999996" y1="424.29999999999995" x2="63.9" y2="424.29999999999995" stroke="#444" stroke-width="0.9"/>
<line x1="85.1" y1="423.9" x2="89.9" y2="423.9" stroke="#222" stroke-width="0.9"/>
<line x1="87.5" y1="421.29999999999995" x2="87.5" y2="426.5" stroke="#222" stroke-width="0.9"/>
<line x1="108.9" y1="424.29999999999995" x2="111.1" y2="424.29999999999995" stroke="#444" stroke-width="0.9"/>
<line x1="128.79999999999998" y1="423.9" x2="133.6" y2="423.9" stroke="#222" stroke-width="0.9"/>
<line x1="131.2" y1="421.29999999999995" x2="131.2" y2="426.5" stroke="#222" stroke-width="0.9"/>
<line x1="150.29999999999998" y1="423.9" x2="155.1" y2="423.9" stroke="#222" stroke-width="0.9"/>
<line x1="152.7" y1="421.29999999999995" x2="152.7" y2="426.5" stroke="#222" stroke-width="0.9"/>
<line x1="61.699999999999996" y1="436.9" x2="63.9" y2="436.9" stroke="#444" stroke-width="0.9"/>
<line x1="86.4" y1="436.9" x2="88.6" y2="436.9" stroke="#444" stroke-width="0.9"/>
<line x1="108.9" y1="436.9" x2="111.1" y2="436.9" stroke="#444" stroke-width="0.9"/>
<line x1="130.1" y1="436.9" x2="132.29999999999998" y2="436.9" stroke="#444" stroke-width="0.9"/>
<line x1="150.29999999999998" y1="436.5" x2="155.1" y2="436.5" stroke="#222" stroke-width="0.9"/>
<line x1="152.7" y1="433.9" x2="152.7" y2="439.1" stroke="#222" stroke-width="0.9"/>
<text transform="translate(207.98,14.80) scale(1.170,1)" font-size="9.50" fill="#1a1a1a" stroke="#1a1a1a" stroke-width="0.28" >i</text>
<text transform="translate(337.83,14.80) scale(1.087,1)" font-size="9.50" fill="#1a1a1a" stroke="#1a1a1a" stroke-width="0.28" >ii</text>
<text transform="translate(268.12,13.90) scale(1.029,1)" font-size="9.42" fill="#1a1a1a" stroke="#1a1a1a" stroke-width="0.28" >CD8 T cells</text>
<text transform="translate(375.35,14.50) scale(1.053,1)" font-size="8.99" fill="#1a1a1a" stroke="#1a1a1a" stroke-width="0.28" >γδ T cells</text>
<text transform="translate(215.80,80.77) rotate(-90) scale(1.052,1)" font-size="9.13" fill="#1a1a1a" stroke="#1a1a1a" stroke-width="0.28">NKG2D</text>
<text transform="translate(229.00,97.91) rotate(-90) scale(1.098,1)" font-size="9.28" fill="#1a1a1a" stroke="#1a1a1a" stroke-width="0.28">expression MFI</text>
<rect x="259.2" y="16.8" width="76.5" height="91.60000000000001" fill="none" stroke="#a8a8a8" stroke-width="1.0"/>
<rect x="366.4" y="17.4" width="75.90000000000003" height="90.6" fill="none" stroke="#a8a8a8" stroke-width="1.0"/>
<line x1="257.5" y1="16.8" x2="259.2" y2="16.8" stroke="#a8a8a8" stroke-width="0.8"/>
<line x1="364.7" y1="17.4" x2="366.4" y2="17.4" stroke="#a8a8a8" stroke-width="0.8"/>
<text transform="translate(237.24,21.70) scale(1.046,1)" font-size="9.71" fill="#1a1a1a" stroke="#1a1a1a" stroke-width="0.28" >180</text>
<text transform="translate(237.24,36.80) scale(1.016,1)" font-size="10.00" fill="#1a1a1a" stroke="#1a1a1a" stroke-width="0.28" >150</text>
<text transform="translate(237.24,52.40) scale(1.046,1)" font-size="9.71" fill="#1a1a1a" stroke="#1a1a1a" stroke-width="0.28" >120</text>
<text transform="translate(242.95,67.70) scale(0.981,1)" font-size="10.29" fill="#1a1a1a" stroke="#1a1a1a" stroke-width="0.28" >90</text>
<text transform="translate(242.89,83.30) scale(1.055,1)" font-size="9.71" fill="#1a1a1a" stroke="#1a1a1a" stroke-width="0.28" >60</text>
<text transform="translate(242.99,98.10) scale(1.045,1)" font-size="9.71" fill="#1a1a1a" stroke="#1a1a1a" stroke-width="0.28" >30</text>
<text transform="translate(248.59,113.00) scale(1.051,1)" font-size="9.71" fill="#1a1a1a" stroke="#1a1a1a" stroke-width="0.28" >0</text>
<text transform="translate(344.85,23.60) scale(0.955,1)" font-size="10.43" fill="#1a1a1a" stroke="#1a1a1a" stroke-width="0.28" >150</text>
<text transform="translate(344.64,39.60) scale(0.954,1)" font-size="10.58" fill="#1a1a1a" stroke="#1a1a1a" stroke-width="0.28" >120</text>
<text transform="translate(349.83,58.30) scale(0.952,1)" font-size="11.01" fill="#1a1a1a" stroke="#1a1a1a" stroke-width="0.28" >90</text>
<text transform="translate(348.88,76.30) scale(0.991,1)" font-size="10.43" fill="#1a1a1a" stroke="#1a1a1a" stroke-width="0.28" >60</text>
<text transform="translate(348.57,95.40) scale(1.033,1)" font-size="10.29" fill="#1a1a1a" stroke="#1a1a1a" stroke-width="0.28" >30</text>
<text transform="translate(353.23,113.60) scale(1.134,1)" font-size="10.29" fill="#1a1a1a" stroke="#1a1a1a" stroke-width="0.28" >0</text>
<text transform="translate(255.42,118.70) scale(1.036,1)" font-size="10.00" fill="#1a1a1a" stroke="#1a1a1a" stroke-width="0.28" >12h</text>
<text transform="translate(280.51,118.70) scale(1.101,1)" font-size="8.99" fill="#1a1a1a" stroke="#1a1a1a" stroke-width="0.28" >2</text>
<text transform="translate(294.91,118.70) scale(1.046,1)" font-size="9.28" fill="#1a1a1a" stroke="#1a1a1a" stroke-width="0.28" >4</text>
<text transform="translate(310.43,118.70) scale(1.124,1)" font-size="9.28" fill="#1a1a1a" stroke="#1a1a1a" stroke-width="0.28" >6</text>
<text transform="translate(325.78,118.70) scale(1.239,1)" font-size="9.28" fill="#1a1a1a" stroke="#1a1a1a" stroke-width="0.28" >8</text>
<text transform="translate(364.22,117.70) scale(0.979,1)" font-size="10.58" fill="#1a1a1a" stroke="#1a1a1a" stroke-width="0.28" >12h</text>
<text transform="translate(389.02,117.70) scale(0.996,1)" font-size="9.71" fill="#1a1a1a" stroke="#1a1a1a" stroke-width="0.28" >2</text>
<text transform="translate(403.81,117.70) scale(1.046,1)" font-size="9.28" fill="#1a1a1a" stroke="#1a1a1a" stroke-width="0.28" >4</text>
<text transform="translate(419.35,117.70) scale(1.182,1)" font-size="9.28" fill="#1a1a1a" stroke="#1a1a1a" stroke-width="0.28" >6</text>
<text transform="translate(434.83,117.70) scale(1.124,1)" font-size="9.28" fill="#1a1a1a" stroke="#1a1a1a" stroke-width="0.28" >8</text>
<line x1="277.5" y1="121.8" x2="336.0" y2="121.8" stroke="#555" stroke-width="1.4"/>
<line x1="384.8" y1="120.8" x2="442.8" y2="120.8" stroke="#555" stroke-width="1.4"/>
<text transform="translate(297.90,131.20) scale(1.055,1)" font-size="9.42" fill="#1a1a1a" stroke="#1a1a1a" stroke-width="0.28" >day</text>
<text transform="translate(406.70,130.20) scale(1.068,1)" font-size="9.42" fill="#1a1a1a" stroke="#1a1a1a" stroke-width="0.28" >day</text>
<polyline points="266.2,86.6 282.2,84.6 297.2,86.9 312.2,90.3 327.9,92.8" fill="none" stroke="#555" stroke-width="0.8" stroke-linejoin="round"/>
<rect x="264.75" y="84.69999999999999" width="2.9" height="3.8" fill="#fff" stroke="#333" stroke-width="0.7"/>
<rect x="280.75" y="82.69999999999999" width="2.9" height="3.8" fill="#fff" stroke="#333" stroke-width="0.7"/>
<rect x="295.75" y="85.0" width="2.9" height="3.8" fill="#fff" stroke="#333" stroke-width="0.7"/>
<rect x="310.75" y="88.39999999999999" width="2.9" height="3.8" fill="#fff" stroke="#333" stroke-width="0.7"/>
<rect x="326.45" y="90.89999999999999" width="2.9" height="3.8" fill="#fff" stroke="#333" stroke-width="0.7"/>
<polyline points="266.2,80.8 282.2,81.0 297.2,81.5 312.2,84.2 327.9,81.5" fill="none" stroke="#777" stroke-width="0.8" stroke-linejoin="round"/>
<polygon points="266.2,78.4 268.2,82.4 264.2,82.4" fill="#fff" stroke="#555" stroke-width="0.7"/>
<polygon points="282.2,78.6 284.2,82.6 280.2,82.6" fill="#fff" stroke="#555" stroke-width="0.7"/>
<polygon points="297.2,79.1 299.2,83.1 295.2,83.1" fill="#fff" stroke="#555" stroke-width="0.7"/>
<polygon points="312.2,81.8 314.2,85.8 310.2,85.8" fill="#fff" stroke="#555" stroke-width="0.7"/>
<polygon points="327.9,79.1 329.9,83.1 325.9,83.1" fill="#fff" stroke="#555" stroke-width="0.7"/>
<polyline points="266.2,82.3 282.2,73.8 297.2,58.0 312.2,35.5 327.9,39.5" fill="none" stroke="#333" stroke-width="0.8" stroke-linejoin="round"/>
<rect x="264.7" y="80.0" width="3.0" height="4.6" fill="#000" stroke="#000" stroke-width="0.4"/>
<rect x="280.7" y="71.5" width="3.0" height="4.6" fill="#000" stroke="#000" stroke-width="0.4"/>
<rect x="295.7" y="55.7" width="3.0" height="4.6" fill="#000" stroke="#000" stroke-width="0.4"/>
<rect x="310.7" y="33.2" width="3.0" height="4.6" fill="#000" stroke="#000" stroke-width="0.4"/>
<rect x="326.4" y="37.2" width="3.0" height="4.6" fill="#000" stroke="#000" stroke-width="0.4"/>
<polyline points="266.2,82.0 282.2,78.5 297.2,75.4 312.2,74.3 327.9,73.4" fill="none" stroke="#555" stroke-width="0.8" stroke-linejoin="round"/>
<polygon points="266.2,79.2 268.3,83.8 264.1,83.8" fill="#000"/>
<polygon points="282.2,75.7 284.3,80.3 280.1,80.3" fill="#000"/>
<polygon points="297.2,72.6 299.3,77.2 295.1,77.2" fill="#000"/>
<polygon points="312.2,71.5 314.3,76.1 310.1,76.1" fill="#000"/>
<polygon points="327.9,70.6 330.0,75.2 325.8,75.2" fill="#000"/>
<polyline points="374.3,81.0 389.4,76.4 404.3,79.6 419.8,83.9 433.3,86.7" fill="none" stroke="#555" stroke-width="0.8" stroke-linejoin="round"/>
<rect x="372.85" y="79.1" width="2.9" height="3.8" fill="#fff" stroke="#333" stroke-width="0.7"/>
<rect x="387.95" y="74.5" width="2.9" height="3.8" fill="#fff" stroke="#333" stroke-width="0.7"/>
<rect x="402.85" y="77.69999999999999" width="2.9" height="3.8" fill="#fff" stroke="#333" stroke-width="0.7"/>
<rect x="418.35" y="82.0" width="2.9" height="3.8" fill="#fff" stroke="#333" stroke-width="0.7"/>
<rect x="431.85" y="84.8" width="2.9" height="3.8" fill="#fff" stroke="#333" stroke-width="0.7"/>
<polyline points="374.3,72.0 389.4,74.2 404.3,72.0 419.8,71.0 433.3,74.9" fill="none" stroke="#777" stroke-width="0.8" stroke-linejoin="round"/>
<polygon points="374.3,69.6 376.3,73.6 372.3,73.6" fill="#fff" stroke="#555" stroke-width="0.7"/>
<polygon points="389.4,71.8 391.4,75.8 387.4,75.8" fill="#fff" stroke="#555" stroke-width="0.7"/>
<polygon points="404.3,69.6 406.3,73.6 402.3,73.6" fill="#fff" stroke="#555" stroke-width="0.7"/>
<polygon points="419.8,68.6 421.8,72.6 417.8,72.6" fill="#fff" stroke="#555" stroke-width="0.7"/>
<polygon points="433.3,72.5 435.3,76.5 431.3,76.5" fill="#fff" stroke="#555" stroke-width="0.7"/>
<polyline points="374.3,79.6 389.4,60.9 404.3,46.9 419.8,26.9 433.3,23.0" fill="none" stroke="#333" stroke-width="0.8" stroke-linejoin="round"/>
<rect x="372.8" y="77.3" width="3.0" height="4.6" fill="#000" stroke="#000" stroke-width="0.4"/>
<rect x="387.9" y="58.6" width="3.0" height="4.6" fill="#000" stroke="#000" stroke-width="0.4"/>
<rect x="402.8" y="44.6" width="3.0" height="4.6" fill="#000" stroke="#000" stroke-width="0.4"/>
<rect x="418.3" y="24.599999999999998" width="3.0" height="4.6" fill="#000" stroke="#000" stroke-width="0.4"/>
<rect x="431.8" y="20.7" width="3.0" height="4.6" fill="#000" stroke="#000" stroke-width="0.4"/>
<polyline points="374.3,81.7 389.4,73.1 404.3,69.5 419.8,67.1 433.3,65.6" fill="none" stroke="#555" stroke-width="0.8" stroke-linejoin="round"/>
<polygon points="374.3,78.9 376.4,83.5 372.2,83.5" fill="#000"/>
<polygon points="389.4,70.3 391.5,74.9 387.3,74.9" fill="#000"/>
<polygon points="404.3,66.7 406.4,71.3 402.2,71.3" fill="#000"/>
<polygon points="419.8,64.3 421.9,68.9 417.7,68.9" fill="#000"/>
<polygon points="433.3,62.8 435.4,67.4 431.2,67.4" fill="#000"/>
<line x1="452.3" y1="46.3" x2="462.8" y2="46.3" stroke="#444" stroke-width="0.8"/>
<rect x="455.85" y="44.4" width="2.9" height="3.8" fill="#fff" stroke="#333" stroke-width="0.7"/>
<line x1="452.3" y1="59.4" x2="462.8" y2="59.4" stroke="#444" stroke-width="0.8"/>
<rect x="455.8" y="57.1" width="3.0" height="4.6" fill="#000" stroke="#000" stroke-width="0.4"/>
<line x1="452.3" y1="75.0" x2="462.8" y2="75.0" stroke="#444" stroke-width="0.8"/>
<polygon points="457.3,72.6 459.3,76.6 455.3,76.6" fill="#fff" stroke="#555" stroke-width="0.7"/>
<line x1="452.3" y1="87.3" x2="462.8" y2="87.3" stroke="#444" stroke-width="0.8"/>
<polygon points="457.3,84.5 459.4,89.1 455.2,89.1" fill="#000"/>
<text transform="translate(464.41,48.70) scale(1.057,1)" font-size="8.55" fill="#1a1a1a" stroke="#1a1a1a" stroke-width="0.28" >medium</text>
<text transform="translate(468.70,64.00) scale(0.944,1)" font-size="8.55" fill="#1a1a1a" stroke="#1a1a1a" stroke-width="0.28" >+IL15</text>
<text transform="translate(467.76,77.60) scale(0.956,1)" font-size="8.41" fill="#1a1a1a" stroke="#1a1a1a" stroke-width="0.28" >LNMSC</text>
<text transform="translate(467.77,91.40) scale(0.852,1)" font-size="9.28" fill="#1a1a1a" stroke="#1a1a1a" stroke-width="0.28" >LNMSC+IL15</text>
<text transform="translate(193.38,168.90) scale(1.111,1)" font-size="10.00" fill="#1a1a1a" stroke="#1a1a1a" stroke-width="0.28" >i</text>
<text transform="translate(350.49,169.00) scale(1.097,1)" font-size="10.00" fill="#1a1a1a" stroke="#1a1a1a" stroke-width="0.28" >ii</text>
<text transform="translate(202.50,281.13) rotate(-90) scale(1.152,1)" font-size="7.97" fill="#1a1a1a" stroke="#1a1a1a" stroke-width="0.28">NKG2D expression MFI</text>
<line x1="232.0" y1="191.0" x2="232.0" y2="265.2" stroke="#8a8a8a" stroke-width="1.0"/>
<line x1="231.5" y1="265.2" x2="357.0" y2="265.2" stroke="#8a8a8a" stroke-width="1.0"/>
<line x1="229.8" y1="192.3" x2="232.0" y2="192.3" stroke="#8a8a8a" stroke-width="0.8"/>
<line x1="229.8" y1="216.5" x2="232.0" y2="216.5" stroke="#8a8a8a" stroke-width="0.8"/>
<line x1="229.8" y1="241.0" x2="232.0" y2="241.0" stroke="#8a8a8a" stroke-width="0.8"/>
<line x1="229.8" y1="265.0" x2="232.0" y2="265.0" stroke="#8a8a8a" stroke-width="0.8"/>
<text transform="translate(208.05,197.90) scale(1.003,1)" font-size="10.00" fill="#1a1a1a" stroke="#1a1a1a" stroke-width="0.28" >150</text>
<text transform="translate(207.54,221.90) scale(1.062,1)" font-size="9.57" fill="#1a1a1a" stroke="#1a1a1a" stroke-width="0.28" >100</text>
<text transform="translate(212.38,246.20) scale(1.118,1)" font-size="9.42" fill="#1a1a1a" stroke="#1a1a1a" stroke-width="0.28" >50</text>
<text transform="translate(219.22,268.60) scale(1.011,1)" font-size="9.28" fill="#1a1a1a" stroke="#1a1a1a" stroke-width="0.28" >0</text>
<rect x="235.9" y="198.6" width="13.299999999999983" height="66.6" fill="#fff" stroke="#7a7a7a" stroke-width="1.0"/>
<line x1="235.9" y1="198.6" x2="249.2" y2="198.6" stroke="#555" stroke-width="1.0"/>
<line x1="242.55" y1="196.0" x2="242.55" y2="198.1" stroke="#444" stroke-width="0.8"/>
<line x1="239.95000000000002" y1="196.0" x2="245.15" y2="196.0" stroke="#444" stroke-width="0.8"/>
<rect x="257.0" y="238.9" width="12.800000000000011" height="26.299999999999983" fill="#fff" stroke="#7a7a7a" stroke-width="1.0"/>
<line x1="257.0" y1="238.9" x2="269.8" y2="238.9" stroke="#555" stroke-width="1.0"/>
<line x1="263.4" y1="237.0" x2="263.4" y2="238.4" stroke="#444" stroke-width="0.8"/>
<line x1="260.79999999999995" y1="237.0" x2="266.0" y2="237.0" stroke="#444" stroke-width="0.8"/>
<rect x="277.7" y="223.6" width="13.300000000000011" height="41.599999999999994" fill="#fff" stroke="#7a7a7a" stroke-width="1.0"/>
<line x1="277.7" y1="223.6" x2="291.0" y2="223.6" stroke="#555" stroke-width="1.0"/>
<line x1="284.35" y1="221.3" x2="284.35" y2="223.1" stroke="#444" stroke-width="0.8"/>
<line x1="281.75" y1="221.3" x2="286.95000000000005" y2="221.3" stroke="#444" stroke-width="0.8"/>
<rect x="298.5" y="207.4" width="13.300000000000011" height="57.79999999999998" fill="#fff" stroke="#7a7a7a" stroke-width="1.0"/>
<line x1="298.5" y1="207.4" x2="311.8" y2="207.4" stroke="#555" stroke-width="1.0"/>
<line x1="305.15" y1="205.2" x2="305.15" y2="206.9" stroke="#444" stroke-width="0.8"/>
<line x1="302.54999999999995" y1="205.2" x2="307.75" y2="205.2" stroke="#444" stroke-width="0.8"/>
<rect x="319.3" y="197.1" width="13.300000000000011" height="68.1" fill="#fff" stroke="#7a7a7a" stroke-width="1.0"/>
<line x1="319.3" y1="197.1" x2="332.6" y2="197.1" stroke="#555" stroke-width="1.0"/>
<line x1="325.95000000000005" y1="195.2" x2="325.95000000000005" y2="196.6" stroke="#444" stroke-width="0.8"/>
<line x1="323.35" y1="195.2" x2="328.55000000000007" y2="195.2" stroke="#444" stroke-width="0.8"/>
<rect x="340.0" y="246.6" width="13.600000000000023" height="18.599999999999994" fill="#fff" stroke="#7a7a7a" stroke-width="1.0"/>
<line x1="340.0" y1="246.6" x2="353.6" y2="246.6" stroke="#555" stroke-width="1.0"/>
<line x1="344.3" y1="245.79999999999998" x2="349.3" y2="245.79999999999998" stroke="#666" stroke-width="0.6"/>
<line x1="242.4" y1="265.2" x2="242.4" y2="267.2" stroke="#999" stroke-width="0.6"/>
<line x1="263.2" y1="265.2" x2="263.2" y2="267.2" stroke="#999" stroke-width="0.6"/>
<line x1="284.3" y1="265.2" x2="284.3" y2="267.2" stroke="#999" stroke-width="0.6"/>
<line x1="305.1" y1="265.2" x2="305.1" y2="267.2" stroke="#999" stroke-width="0.6"/>
<line x1="326.0" y1="265.2" x2="326.0" y2="267.2" stroke="#999" stroke-width="0.6"/>
<line x1="346.8" y1="265.2" x2="346.8" y2="267.2" stroke="#999" stroke-width="0.6"/>
<polyline points="241.2,190.4 263.6,190.4 263.6,197.5" fill="none" stroke="#3a3a3a" stroke-width="1.15" stroke-linejoin="round"/>
<polyline points="239.0,177.0 282.4,177.0 282.4,183.2" fill="none" stroke="#3a3a3a" stroke-width="1.15" stroke-linejoin="round"/>
<polyline points="240.1,166.5 302.9,166.5 302.9,172.7" fill="none" stroke="#3a3a3a" stroke-width="1.15" stroke-linejoin="round"/>
<polyline points="238.7,156.8 326.7,156.8 326.7,163.0" fill="none" stroke="#3a3a3a" stroke-width="1.15" stroke-linejoin="round"/>
<text transform="translate(234.05,188.00) scale(1.148,1)" font-size="7.39" fill="#1a1a1a" stroke="#1a1a1a" stroke-width="0.28" >p&lt;0.0001</text>
<text transform="translate(242.26,176.20) scale(1.128,1)" font-size="7.39" fill="#1a1a1a" stroke="#1a1a1a" stroke-width="0.28" >p&lt;0.0001</text>
<text transform="translate(263.65,165.80) scale(1.153,1)" font-size="7.39" fill="#1a1a1a" stroke="#1a1a1a" stroke-width="0.28" >p&lt;0.0167</text>
<text transform="translate(292.14,156.30) scale(1.163,1)" font-size="7.39" fill="#1a1a1a" stroke="#1a1a1a" stroke-width="0.28" >p&lt;0.637</text>
<text transform="translate(231.57,279.30) scale(0.890,1)" font-size="9.71" fill="#1a1a1a" stroke="#1a1a1a" stroke-width="0.28" >CD8</text>
<text transform="translate(231.62,292.10) scale(1.021,1)" font-size="9.28" fill="#1a1a1a" stroke="#1a1a1a" stroke-width="0.28" >only</text>
<text transform="translate(254.42,278.80) scale(0.967,1)" font-size="9.35" fill="#1a1a1a" stroke="#1a1a1a" stroke-width="0.28" >10:1</text>
<text transform="translate(274.55,278.70) scale(0.983,1)" font-size="9.13" fill="#1a1a1a" stroke="#1a1a1a" stroke-width="0.28" >20:1</text>
<text transform="translate(296.62,278.70) scale(0.979,1)" font-size="9.13" fill="#1a1a1a" stroke="#1a1a1a" stroke-width="0.28" >40:1</text>
<text transform="translate(317.03,277.70) scale(0.897,1)" font-size="9.13" fill="#1a1a1a" stroke="#1a1a1a" stroke-width="0.28" >80:1</text>
<text transform="translate(343.29,278.50) scale(0.991,1)" font-size="9.42" fill="#1a1a1a" stroke="#1a1a1a" stroke-width="0.28" >basal</text>
<line x1="255.9" y1="281.9" x2="331.5" y2="281.9" stroke="#555" stroke-width="1.3"/>
<text transform="translate(256.55,293.20) scale(0.921,1)" font-size="9.86" fill="#1a1a1a" stroke="#1a1a1a" stroke-width="0.28" >CD8:LNMSC ratio</text>
<line x1="378.7" y1="192.5" x2="378.7" y2="265.2" stroke="#888" stroke-width="1.6"/>
<line x1="378.0" y1="265.2" x2="504.0" y2="265.2" stroke="#666" stroke-width="1.0"/>
<line x1="376.4" y1="201.0" x2="378.7" y2="201.0" stroke="#666" stroke-width="0.8"/>
<line x1="376.4" y1="222.4" x2="378.7" y2="222.4" stroke="#666" stroke-width="0.8"/>
<line x1="376.4" y1="243.5" x2="378.7" y2="243.5" stroke="#666" stroke-width="0.8"/>
<line x1="376.4" y1="265.2" x2="378.7" y2="265.2" stroke="#666" stroke-width="0.8"/>
<text transform="translate(356.83,206.40) scale(1.053,1)" font-size="9.71" fill="#1a1a1a" stroke="#1a1a1a" stroke-width="0.28" >150</text>
<text transform="translate(357.04,227.00) scale(1.106,1)" font-size="9.13" fill="#1a1a1a" stroke="#1a1a1a" stroke-width="0.28" >100</text>
<text transform="translate(362.80,247.30) scale(1.025,1)" font-size="9.71" fill="#1a1a1a" stroke="#1a1a1a" stroke-width="0.28" >50</text>
<text transform="translate(368.93,268.50) scale(1.027,1)" font-size="9.13" fill="#1a1a1a" stroke="#1a1a1a" stroke-width="0.28" >0</text>
<rect x="382.8" y="202.7" width="13.0" height="62.5" fill="#fff" stroke="#444" stroke-width="0.9"/>
<line x1="389.3" y1="198.1" x2="389.3" y2="202.2" stroke="#333" stroke-width="0.8"/>
<line x1="386.7" y1="198.1" x2="391.90000000000003" y2="198.1" stroke="#333" stroke-width="0.8"/>
<rect x="403.7" y="239.2" width="13.400000000000034" height="26.0" fill="#fff" stroke="#444" stroke-width="0.9"/>
<line x1="410.4" y1="238.0" x2="410.4" y2="238.7" stroke="#333" stroke-width="0.8"/>
<line x1="407.79999999999995" y1="238.0" x2="413.0" y2="238.0" stroke="#333" stroke-width="0.8"/>
<rect x="424.3" y="225.9" width="13.399999999999977" height="39.29999999999998" fill="#fff" stroke="#444" stroke-width="0.9"/>
<line x1="431.0" y1="224.6" x2="431.0" y2="225.4" stroke="#333" stroke-width="0.8"/>
<line x1="428.4" y1="224.6" x2="433.6" y2="224.6" stroke="#333" stroke-width="0.8"/>
<rect x="445.1" y="211.6" width="13.299999999999955" height="53.599999999999994" fill="#fff" stroke="#444" stroke-width="0.9"/>
<line x1="451.75" y1="208.8" x2="451.75" y2="211.1" stroke="#333" stroke-width="0.8"/>
<line x1="449.15" y1="208.8" x2="454.35" y2="208.8" stroke="#333" stroke-width="0.8"/>
<rect x="466.3" y="202.8" width="12.800000000000011" height="62.39999999999998" fill="#fff" stroke="#444" stroke-width="0.9"/>
<line x1="472.70000000000005" y1="199.3" x2="472.70000000000005" y2="202.3" stroke="#333" stroke-width="0.8"/>
<line x1="470.1" y1="199.3" x2="475.30000000000007" y2="199.3" stroke="#333" stroke-width="0.8"/>
<rect x="487.3" y="247.1" width="12.800000000000011" height="18.099999999999994" fill="#fff" stroke="#444" stroke-width="0.9"/>
<line x1="491.20000000000005" y1="246.29999999999998" x2="496.20000000000005" y2="246.29999999999998" stroke="#555" stroke-width="0.6"/>
<line x1="389.4" y1="265.2" x2="389.4" y2="267.0" stroke="#888" stroke-width="0.6"/>
<line x1="410.4" y1="265.2" x2="410.4" y2="267.0" stroke="#888" stroke-width="0.6"/>
<line x1="431.0" y1="265.2" x2="431.0" y2="267.0" stroke="#888" stroke-width="0.6"/>
<line x1="451.8" y1="265.2" x2="451.8" y2="267.0" stroke="#888" stroke-width="0.6"/>
<line x1="472.7" y1="265.2" x2="472.7" y2="267.0" stroke="#888" stroke-width="0.6"/>
<line x1="493.5" y1="265.2" x2="493.5" y2="267.0" stroke="#888" stroke-width="0.6"/>
<polyline points="388.8,194.5 407.4,194.5 407.4,200.8" fill="none" stroke="#3a3a3a" stroke-width="1.15" stroke-linejoin="round"/>
<polyline points="386.1,179.4 430.5,179.4 430.5,185.1" fill="none" stroke="#3a3a3a" stroke-width="1.15" stroke-linejoin="round"/>
<polyline points="386.1,165.4 448.7,165.4 448.7,171.4" fill="none" stroke="#3a3a3a" stroke-width="1.15" stroke-linejoin="round"/>
<polyline points="386.1,154.1 474.4,154.1 474.4,159.8" fill="none" stroke="#3a3a3a" stroke-width="1.15" stroke-linejoin="round"/>
<text transform="translate(379.55,191.90) scale(1.101,1)" font-size="7.68" fill="#1a1a1a" stroke="#1a1a1a" stroke-width="0.28" >p&lt;0.0001</text>
<text transform="translate(390.84,176.40) scale(1.143,1)" font-size="7.54" fill="#1a1a1a" stroke="#1a1a1a" stroke-width="0.28" >p&lt;0.0002</text>
<text transform="translate(407.74,163.80) scale(1.119,1)" font-size="7.68" fill="#1a1a1a" stroke="#1a1a1a" stroke-width="0.28" >p&lt;0.0726</text>
<text transform="translate(437.65,152.50) scale(1.113,1)" font-size="7.54" fill="#1a1a1a" stroke="#1a1a1a" stroke-width="0.28" >p&lt;0.9770</text>
<text transform="translate(382.36,278.50) scale(0.828,1)" font-size="8.99" fill="#1a1a1a" stroke="#1a1a1a" stroke-width="0.28" >γδT</text>
<text transform="translate(377.73,290.00) scale(1.022,1)" font-size="8.55" fill="#1a1a1a" stroke="#1a1a1a" stroke-width="0.28" >T cells</text>
<text transform="translate(380.72,302.90) scale(1.066,1)" font-size="8.99" fill="#1a1a1a" stroke="#1a1a1a" stroke-width="0.28" >only</text>
<text transform="translate(400.91,278.50) scale(1.121,1)" font-size="8.26" fill="#1a1a1a" stroke="#1a1a1a" stroke-width="0.28" >10:1</text>
<text transform="translate(422.24,278.50) scale(1.033,1)" font-size="8.84" fill="#1a1a1a" stroke="#1a1a1a" stroke-width="0.28" >20:1</text>
<text transform="translate(443.82,278.50) scale(1.023,1)" font-size="8.84" fill="#1a1a1a" stroke="#1a1a1a" stroke-width="0.28" >40:1</text>
<text transform="translate(464.38,279.60) scale(1.066,1)" font-size="8.70" fill="#1a1a1a" stroke="#1a1a1a" stroke-width="0.28" >80:1</text>
<text transform="translate(493.12,280.90) scale(0.939,1)" font-size="9.57" fill="#1a1a1a" stroke="#1a1a1a" stroke-width="0.28" >basal</text>
<line x1="411.0" y1="282.3" x2="475.0" y2="282.3" stroke="#555" stroke-width="1.3"/>
<text transform="translate(423.46,292.20) scale(1.023,1)" font-size="8.70" fill="#1a1a1a" stroke="#1a1a1a" stroke-width="0.28" >γδ T cells :</text>
<text transform="translate(417.37,304.00) scale(0.935,1)" font-size="9.71" fill="#1a1a1a" stroke="#1a1a1a" stroke-width="0.28" >LNMSC ratio</text>
<text transform="translate(225.38,326.80) scale(1.111,1)" font-size="10.00" fill="#1a1a1a" stroke="#1a1a1a" stroke-width="0.28" >i</text>
<text transform="translate(356.89,326.60) scale(1.063,1)" font-size="8.80" fill="#1a1a1a" stroke="#1a1a1a" stroke-width="0.28" >ii</text>
<text transform="translate(263.23,329.60) scale(1.012,1)" font-size="9.57" fill="#1a1a1a" stroke="#1a1a1a" stroke-width="0.28" >LNMSC2</text>
<text transform="translate(239.20,405.67) rotate(-90) scale(1.086,1)" font-size="10.58" fill="#1a1a1a" stroke="#1a1a1a" stroke-width="0.28">Cell number</text>
<rect x="261.2" y="333.3" width="86.60000000000002" height="74.80000000000001" fill="none" stroke="#666" stroke-width="0.8"/>
<line x1="261.2" y1="333.3" x2="261.2" y2="408.1" stroke="#333" stroke-width="0.9"/>
<line x1="261.2" y1="408.1" x2="347.8" y2="408.1" stroke="#333" stroke-width="0.9"/>
<line x1="256.8" y1="408.1" x2="261.2" y2="408.1" stroke="#555" stroke-width="0.7"/>
<text transform="translate(251.63,409.80) scale(1.353,1)" font-size="4.93" fill="#222" stroke="#222" stroke-width="0.28" >0</text>
<line x1="256.8" y1="389.40000000000003" x2="261.2" y2="389.40000000000003" stroke="#555" stroke-width="0.7"/>
<text transform="translate(243.78,391.10) scale(1.414,1)" font-size="4.93" fill="#222" stroke="#222" stroke-width="0.28" >125</text>
<line x1="256.8" y1="370.70000000000005" x2="261.2" y2="370.70000000000005" stroke="#555" stroke-width="0.7"/>
<text transform="translate(243.96,372.40) scale(1.387,1)" font-size="4.93" fill="#222" stroke="#222" stroke-width="0.28" >250</text>
<line x1="256.8" y1="352.0" x2="261.2" y2="352.0" stroke="#555" stroke-width="0.7"/>
<text transform="translate(244.03,353.70) scale(1.383,1)" font-size="4.93" fill="#222" stroke="#222" stroke-width="0.28" >375</text>
<line x1="256.8" y1="333.3" x2="261.2" y2="333.3" stroke="#555" stroke-width="0.7"/>
<text transform="translate(244.03,335.00) scale(1.378,1)" font-size="4.93" fill="#222" stroke="#222" stroke-width="0.28" >500</text>
<line x1="261.2" y1="408.1" x2="261.2" y2="409.90000000000003" stroke="#555" stroke-width="0.6"/>
<text x="258.1" y="416.0" font-size="5.6" fill="#222" stroke="#222" stroke-width="0.15" textLength="4.5" lengthAdjust="spacingAndGlyphs">10</text>
<text x="262.9" y="413.9" font-size="3.8" fill="#222">0</text>
<line x1="282.85" y1="408.1" x2="282.85" y2="409.90000000000003" stroke="#555" stroke-width="0.6"/>
<text x="279.3" y="416.0" font-size="5.6" fill="#222" stroke="#222" stroke-width="0.15" textLength="4.5" lengthAdjust="spacingAndGlyphs">10</text>
<text x="284.1" y="413.9" font-size="3.8" fill="#222">1</text>
<line x1="304.5" y1="408.1" x2="304.5" y2="409.90000000000003" stroke="#555" stroke-width="0.6"/>
<text x="297.5" y="416.0" font-size="5.6" fill="#222" stroke="#222" stroke-width="0.15" textLength="6.5" lengthAdjust="spacingAndGlyphs">10</text>
<text x="304.4" y="413.9" font-size="3.8" fill="#222">2</text>
<line x1="326.15" y1="408.1" x2="326.15" y2="409.90000000000003" stroke="#555" stroke-width="0.6"/>
<text x="318.7" y="416.0" font-size="5.6" fill="#222" stroke="#222" stroke-width="0.15" textLength="6.5" lengthAdjust="spacingAndGlyphs">10</text>
<text x="325.6" y="413.9" font-size="3.8" fill="#222">3</text>
<line x1="347.8" y1="408.1" x2="347.8" y2="409.90000000000003" stroke="#555" stroke-width="0.6"/>
<text x="339.9" y="416.0" font-size="5.6" fill="#222" stroke="#222" stroke-width="0.15" textLength="5.8" lengthAdjust="spacingAndGlyphs">10</text>
<text x="346.1" y="413.9" font-size="3.8" fill="#222">4</text>
<polyline points="263.5,408.0 265.1,407.4 266.6,401.0 267.9,390.7 269.7,366.8 271.2,350.2 272.3,344.5 273.4,342.9 274.4,344.8 275.2,348.4 276.7,366.8 278.5,388.8 280.7,403.5 282.6,407.2 285.0,408.0" fill="none" stroke="#2a2a2a" stroke-width="0.85" stroke-linejoin="round"/>
<polyline points="274.0,408.0 275.2,407.2 276.7,399.9 278.0,390.7 279.8,372.3 281.1,357.6 282.6,343.8 283.5,340.1 284.8,344.7 285.9,359.4 287.2,377.8 289.0,394.3 290.8,402.6 293.6,406.3 299.1,407.6 303.0,408.0" fill="none" stroke="#000" stroke-width="1.5" stroke-linejoin="round"/>
<line x1="283.5" y1="370.5" x2="347.8" y2="370.5" stroke="#444" stroke-width="0.7"/>
<line x1="283.5" y1="370.5" x2="283.5" y2="378.6" stroke="#555" stroke-width="0.8"/>
<text transform="translate(299.68,352.70) scale(0.968,1)" font-size="8.26" fill="#1a1a1a" stroke="#1a1a1a" stroke-width="0.28" >56%</text>
<text transform="translate(294.31,369.80) scale(0.988,1)" font-size="8.70" fill="#1a1a1a" stroke="#1a1a1a" stroke-width="0.28" >MFI 18</text>
<text transform="translate(336.77,375.30) scale(1.586,1)" font-size="4.20" fill="#444" stroke="#444" stroke-width="0.28" >R6</text>
<text transform="translate(274.00,430.50) scale(1.016,1)" font-size="9.86" fill="#1a1a1a" stroke="#1a1a1a" stroke-width="0.28" >cytoTGF β</text>
<text transform="translate(365.90,395.59) rotate(-90) scale(0.933,1)" font-size="10.14" fill="#1a1a1a" stroke="#1a1a1a" stroke-width="0.28">TGFβ</text>
<text transform="translate(365.90,369.84) rotate(-90) scale(1.273,1)" font-size="10.14" fill="#1a1a1a" stroke="#1a1a1a" stroke-width="0.28">pg/ml</text>
<rect x="389.4" y="331.0" width="88.70000000000005" height="80.89999999999998" fill="none" stroke="#999" stroke-width="0.9"/>
<line x1="389.4" y1="331.0" x2="389.4" y2="412.0" stroke="#555" stroke-width="0.9"/>
<line x1="389.4" y1="411.9" x2="478.1" y2="411.9" stroke="#555" stroke-width="0.9"/>
<line x1="412.2" y1="411.9" x2="412.2" y2="413.5" stroke="#777" stroke-width="0.6"/>
<line x1="434.4" y1="411.9" x2="434.4" y2="413.5" stroke="#777" stroke-width="0.6"/>
<line x1="456.6" y1="411.9" x2="456.6" y2="413.5" stroke="#777" stroke-width="0.6"/>
<text transform="translate(371.88,336.50) scale(1.201,1)" font-size="8.70" fill="#1a1a1a" stroke="#1a1a1a" stroke-width="0.28" >500</text>
<text transform="translate(371.99,352.60) scale(1.193,1)" font-size="8.70" fill="#1a1a1a" stroke="#1a1a1a" stroke-width="0.28" >400</text>
<text transform="translate(371.78,368.40) scale(1.208,1)" font-size="8.70" fill="#1a1a1a" stroke="#1a1a1a" stroke-width="0.28" >300</text>
<text transform="translate(371.87,385.40) scale(1.066,1)" font-size="9.86" fill="#1a1a1a" stroke="#1a1a1a" stroke-width="0.28" >200</text>
<text transform="translate(371.60,401.60) scale(1.083,1)" font-size="9.86" fill="#1a1a1a" stroke="#1a1a1a" stroke-width="0.28" >100</text>
<text transform="translate(378.91,417.20) scale(1.090,1)" font-size="8.99" fill="#1a1a1a" stroke="#1a1a1a" stroke-width="0.28" >0</text>
<rect x="396.1" y="346.6" width="9.5" height="65.29999999999995" fill="#000" stroke="none" stroke-width="1"/>
<rect x="418.3" y="371.4" width="9.399999999999977" height="40.5" fill="#000" stroke="none" stroke-width="1"/>
<rect x="440.4" y="379.4" width="9.5" height="32.5" fill="#000" stroke="none" stroke-width="1"/>
<rect x="462.6" y="387.5" width="9.5" height="24.399999999999977" fill="#000" stroke="none" stroke-width="1"/>
<text transform="translate(384.85,443.40) rotate(-44.7) scale(0.961,1)" font-size="9.57" fill="#1a1a1a" stroke="#1a1a1a" stroke-width="0.28" x="-0.77">LNMSC1</text>
<text transform="translate(407.00,443.40) rotate(-44.7) scale(0.962,1)" font-size="9.57" fill="#1a1a1a" stroke="#1a1a1a" stroke-width="0.28" x="-0.77">LNMSC2</text>
<text transform="translate(429.15,443.40) rotate(-44.7) scale(0.960,1)" font-size="9.57" fill="#1a1a1a" stroke="#1a1a1a" stroke-width="0.28" x="-0.77">LNMSC3</text>
<text transform="translate(451.35,443.40) rotate(-44.7) scale(0.958,1)" font-size="9.57" fill="#1a1a1a" stroke="#1a1a1a" stroke-width="0.28" x="-0.77">LNMSC4</text>
</svg></body></html>
